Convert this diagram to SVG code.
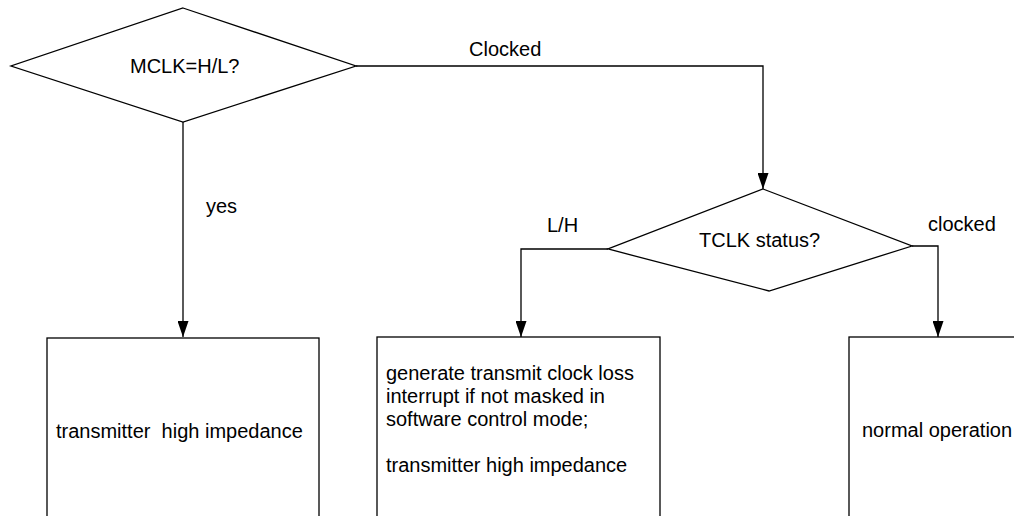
<svg xmlns="http://www.w3.org/2000/svg" width="1014" height="516" viewBox="0 0 1014 516">
  <defs>
    <marker id="arrow" viewBox="0 0 16 11" refX="16" refY="5.5" markerWidth="16" markerHeight="11" markerUnits="userSpaceOnUse" orient="auto">
      <path d="M0,0 L16,5.5 L0,11 Z" fill="#000"/>
    </marker>
  </defs>
  <style>
    .shape { fill: #fff; stroke: #000; stroke-width: 1.3; }
    .conn { fill: none; stroke: #000; stroke-width: 1.3; marker-end: url(#arrow); }
    text { font-family: "Liberation Sans", Arial, sans-serif; font-size: 20px; fill: #000; }
  </style>
  <rect width="1014" height="516" fill="#fff"/>
  <g id="connectors">
    <path class="conn" d="M356,66 H763 V189"/>
    <path class="conn" d="M183,122 V337"/>
    <path class="conn" d="M608,249 H521 V337"/>
    <path class="conn" d="M912,246 H938 V337"/>
  </g>
  <g id="labels">
    <text x="469" y="56">Clocked</text>
    <text x="206" y="213">yes</text>
    <text x="547" y="232">L/H</text>
    <text x="928" y="231">clocked</text>
  </g>
  <g id="mclk">
    <polygon class="shape" points="183,8 356,66 183,122 11,66"/>
    <text x="130" y="72.5">MCLK=H/L?</text>
  </g>
  <g id="tclk">
    <polygon class="shape" points="763,189 912,246 769,291 608,249"/>
    <text x="699" y="247">TCLK status?</text>
  </g>
  <g id="box1">
    <rect class="shape" x="47" y="338" width="272" height="200"/>
    <text x="56" y="438" xml:space="preserve">transmitter  high impedance</text>
  </g>
  <g id="box2">
    <rect class="shape" x="377" y="337" width="283" height="200"/>
    <text x="386" y="380">generate transmit clock loss</text>
    <text x="386" y="403">interrupt if not masked in</text>
    <text x="386" y="426">software control mode;</text>
    <text x="386" y="472">transmitter high impedance</text>
  </g>
  <g id="box3">
    <rect class="shape" x="849" y="337" width="200" height="200"/>
    <text x="862" y="437">normal operation</text>
  </g>
</svg>
